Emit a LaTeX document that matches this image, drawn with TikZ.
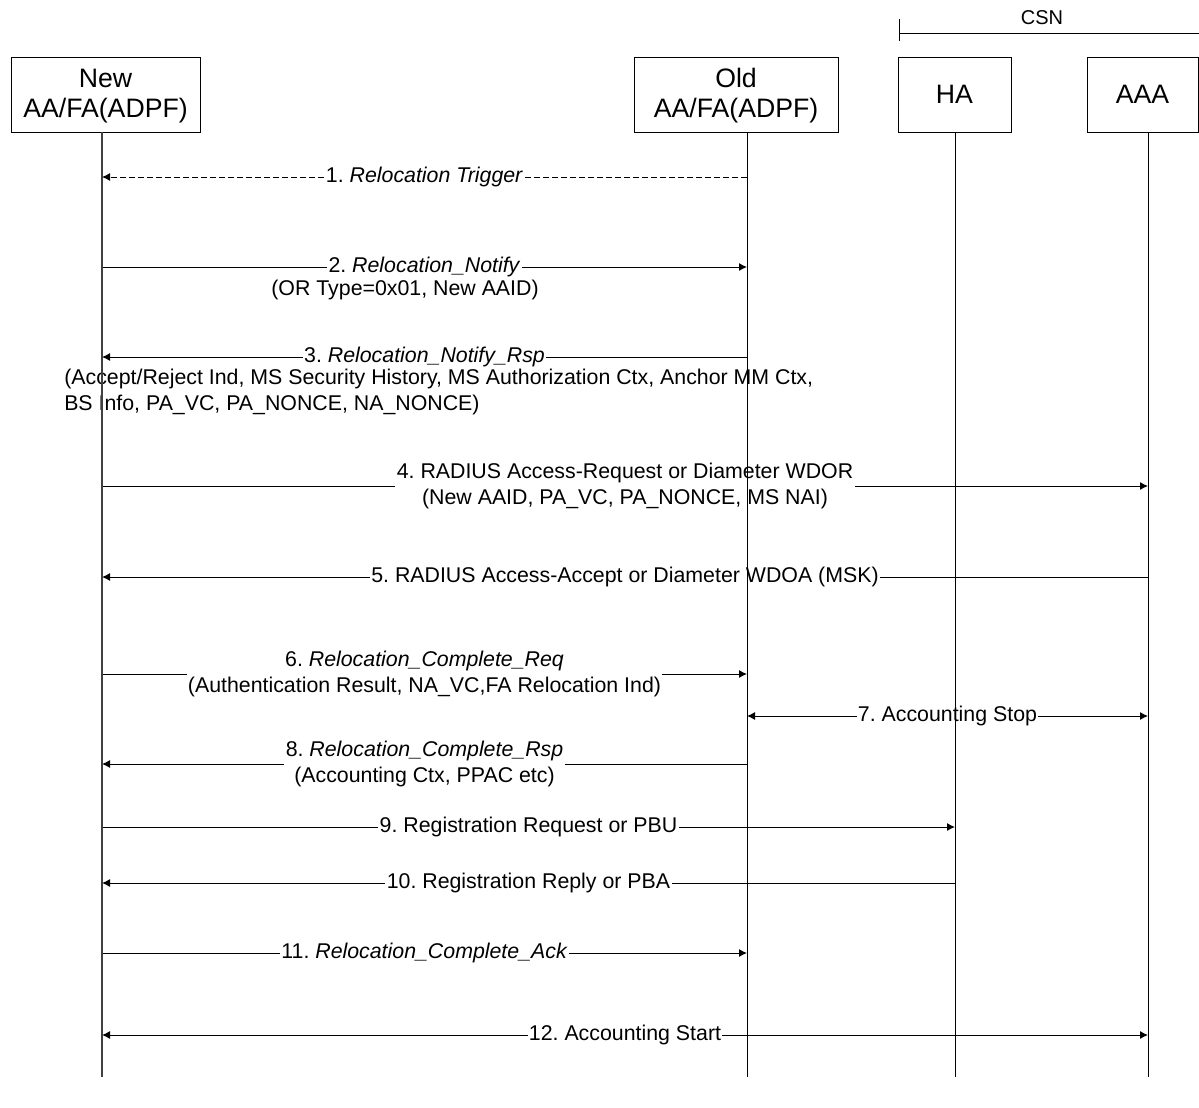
\documentclass[tikz,border=0pt]{standalone}
\usepackage{fontspec}
\setmainfont{Liberation Sans}
\usetikzlibrary{arrows.meta}
\frenchspacing
\begin{document}
\begin{tikzpicture}[x=0.75pt,y=-0.75pt,
  entity/.style={draw, line width=0.75pt, align=center, inner sep=0pt,
    minimum height=56.25pt, font=\fontsize{20}{22.5}\selectfont},
  life/.style={line width=0.75pt},
  tip/.style={Latex[length=6pt,width=6pt]},
  msg/.style={line width=0.75pt, -{Latex[length=6pt,width=6pt]}},
  bimsg/.style={line width=0.75pt, {Latex[length=6pt,width=6pt]}-{Latex[length=6pt,width=6pt]}},
  lbl/.style={fill=white, inner xsep=1pt, inner ysep=0pt, align=center,
    font=\fontsize{16}{19.5}\selectfont},
  note/.style={inner sep=0pt, align=center, font=\fontsize{16}{19.5}\selectfont},
]
\useasboundingbox (0,0) rectangle (1199,1107);

% participants
\node[entity, minimum width=141.75pt] (newbox) at (105.5,94.5) {\rule{0pt}{17pt}New\\AA/FA(ADPF)\rule[-5pt]{0pt}{5pt}};
\node[entity, minimum width=153pt] (oldbox) at (736,94.5) {\rule{0pt}{17pt}Old\\AA/FA(ADPF)\rule[-5pt]{0pt}{5pt}};
\node[entity, minimum width=84.75pt] (habox) at (954.5,94.5) {HA};
\node[entity, minimum width=83.25pt] (aaabox) at (1142.5,94.5) {AAA};

% CSN bracket
\coordinate (csnTop) at (899,19);
\coordinate (csnBot) at (899,41);
\coordinate (csnL) at (899,33);
\coordinate (csnR) at (1199,33);
\draw[line width=0.75pt] (csnTop) -- (csnBot);
\draw[line width=0.75pt] (csnL) -- (csnR);
\node[note, font=\fontsize{15}{18}\selectfont] (csn) at (1042,18) {CSN};

% lifeline ends
\coordinate (Ntop) at (102,132);  \coordinate (Nbot) at (102,1077);
\coordinate (Otop) at (747,132);  \coordinate (Obot) at (747,1077);
\coordinate (Htop) at (955,132);  \coordinate (Hbot) at (955,1077);
\coordinate (Atop) at (1148,132); \coordinate (Abot) at (1148,1077);

% message end points
\foreach \n/\y in {1/177,2/267,3/357,4/486,5/577,6/674,7/716,8/764,9/827,10/883,11/953,12/1035}{
  \coordinate (N\n) at (102,\y);
  \coordinate (O\n) at (747,\y);
  \coordinate (H\n) at (955,\y);
  \coordinate (A\n) at (1148,\y);
}

% messages
\draw[msg, dash pattern=on 4.5pt off 2.25pt] (O1) -- (N1)
  node[midway, lbl] (m1) {1. \textit{Relocation Trigger}};

\draw[msg] (N2) -- (O2) node[midway, lbl] (m2) {2. \textit{Relocation\_Notify}};
\node[note] (m2b) at (405,290) {(OR Type=0x01, New AAID)};

\draw[msg] (O3) -- (N3) node[midway, lbl] (m3) {3. \textit{Relocation\_Notify\_Rsp}};
\node[note, align=left, anchor=north west] (m3b) at (64,369)
  {(Accept/Reject Ind, MS Security History, MS Authorization Ctx, Anchor MM Ctx,\\
   BS Info, PA\_VC, PA\_NONCE, NA\_NONCE)};

\draw[msg] (N4) -- (A4) node[midway, lbl] (m4)
  {4. RADIUS Access-Request or Diameter WDOR\\(New AAID, PA\_VC, PA\_NONCE, MS NAI)};

\draw[msg] (A5) -- (N5) node[midway, lbl] (m5)
  {5. RADIUS Access-Accept or Diameter WDOA (MSK)};

\draw[msg] (N6) -- (O6) node[midway, lbl] (m6)
  {6. \textit{Relocation\_Complete\_Req}\\(Authentication Result, NA\_VC,FA Relocation Ind)};

\draw[bimsg] (O7) -- (A7) node[midway, lbl] (m7) {7. Accounting Stop};

\draw[msg] (O8) -- (N8) node[midway, lbl] (m8)
  {8. \textit{Relocation\_Complete\_Rsp}\\(Accounting Ctx, PPAC etc)};

\draw[msg] (N9) -- (H9) node[midway, lbl] (m9) {9. Registration Request or PBU};

\draw[msg] (H10) -- (N10) node[midway, lbl] (m10) {10. Registration Reply or PBA};

\draw[msg] (N11) -- (O11) node[midway, lbl] (m11) {11. \textit{Relocation\_Complete\_Ack}};

\draw[bimsg] (N12) -- (A12) node[midway, lbl] (m12) {12. Accounting Start};

% lifelines, drawn over the labels
\draw[life, line width=1pt, black!75] (Ntop) -- (Nbot);
\draw[life] (Otop) -- (Obot);
\draw[life] (Htop) -- (Hbot);
\draw[life] (Atop) -- (Abot);
\end{tikzpicture}
\end{document}
